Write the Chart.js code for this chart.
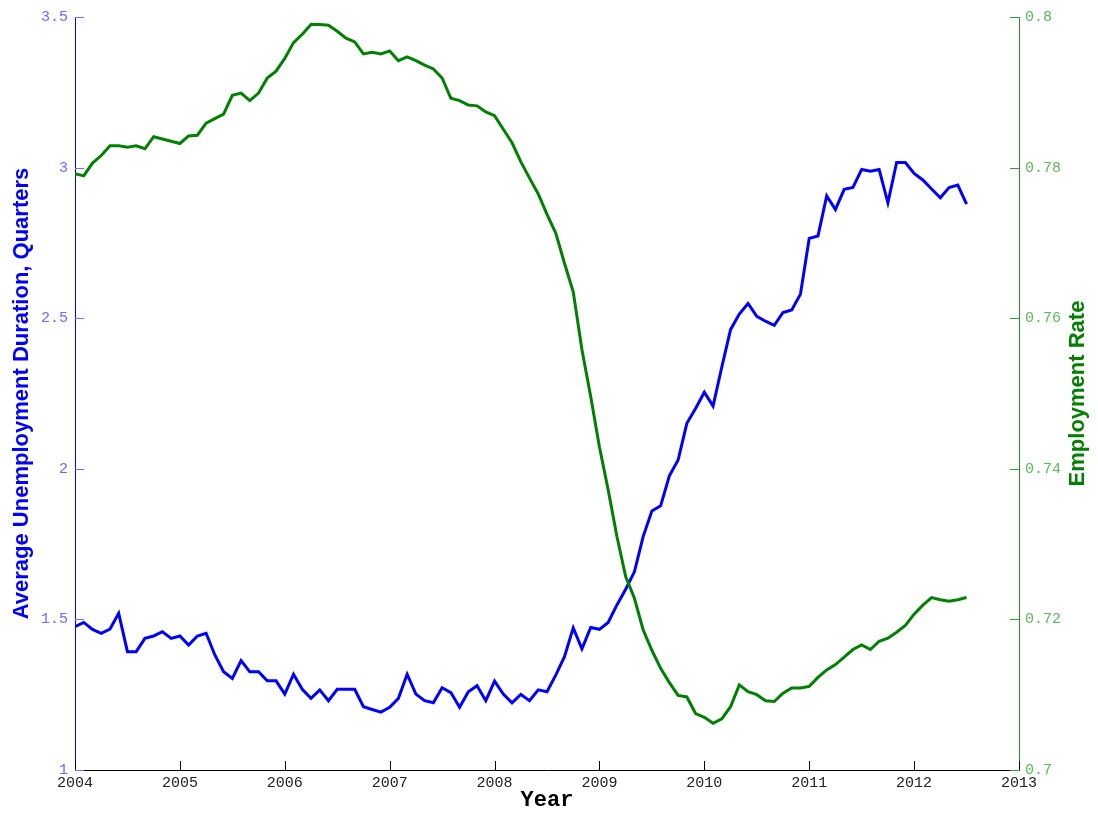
<!DOCTYPE html>
<html>
<head>
<meta charset="utf-8">
<title>Unemployment duration and employment rate</title>
<script src="https://cdn.jsdelivr.net/npm/chart.js@4/dist/chart.umd.min.js"></script>
<style>
  html, body { margin: 0; padding: 0; background: #fff; }
  #wrap { width: 1098px; height: 816px; position: relative; }
</style>
</head>
<body>
<div id="wrap"><canvas id="grafico"></canvas></div>
<script>
// monthly series, Jan 2004 to Jul 2012
var startYear = 2004;

var duration = [
  1.476, 1.490, 1.467, 1.454, 1.468, 1.520, 1.393, 1.393, 1.437, 1.445, 1.459, 1.437,
  1.445, 1.415, 1.445, 1.454, 1.382, 1.326, 1.304, 1.363, 1.326, 1.326, 1.296, 1.296,
  1.252, 1.318, 1.268, 1.238, 1.266, 1.230, 1.268, 1.268, 1.268, 1.210, 1.201, 1.192,
  1.208, 1.238, 1.318, 1.252, 1.230, 1.223, 1.273, 1.257, 1.208, 1.260, 1.280, 1.230,
  1.295, 1.252, 1.223, 1.251, 1.230, 1.266, 1.260, 1.315, 1.376, 1.472, 1.402, 1.473,
  1.467, 1.490, 1.548, 1.600, 1.658, 1.775, 1.860, 1.877, 1.977, 2.029, 2.151, 2.200,
  2.254, 2.208, 2.338, 2.462, 2.514, 2.549, 2.506, 2.490, 2.476, 2.519, 2.527, 2.580,
  2.765, 2.773, 2.906, 2.861, 2.928, 2.934, 2.994, 2.988, 2.994, 2.883, 3.017, 3.017,
  2.981, 2.959, 2.929, 2.900, 2.934, 2.942, 2.879
];

var employment = [
  0.7792, 0.7789, 0.7806, 0.7816, 0.7829, 0.7829, 0.7827, 0.7829, 0.7825, 0.7841, 0.7838, 0.7835,
  0.7832, 0.7842, 0.7843, 0.7859, 0.7865, 0.7871, 0.7896, 0.7899, 0.7889, 0.7899, 0.7919, 0.7928,
  0.7945, 0.7966, 0.7977, 0.7990, 0.7990, 0.7989, 0.7981, 0.7972, 0.7967, 0.7951, 0.7953, 0.7951,
  0.7955, 0.7942, 0.7947, 0.7942, 0.7936, 0.7931, 0.7919, 0.7892, 0.7889, 0.7883, 0.7882, 0.7874,
  0.7869, 0.7851, 0.7833, 0.7808, 0.7786, 0.7765, 0.7738, 0.7713, 0.7673, 0.7635, 0.7558, 0.7496,
  0.7429, 0.7372, 0.7310, 0.7257, 0.7228, 0.7186, 0.7159, 0.7135, 0.7116, 0.7099, 0.7097, 0.7075,
  0.7070, 0.7062, 0.7068, 0.7084, 0.7113, 0.7104, 0.7100, 0.7092, 0.7091, 0.7102, 0.7109, 0.7109,
  0.7111, 0.7123, 0.7133, 0.7140, 0.7150, 0.7160, 0.7166, 0.7160, 0.7171, 0.7175, 0.7183, 0.7192,
  0.7207, 0.7219, 0.7229, 0.7226, 0.7224, 0.7226, 0.7229
];

var yearTicks = [2004, 2005, 2006, 2007, 2008, 2009, 2010, 2011, 2012, 2013];
var durationTicks = [1, 1.5, 2, 2.5, 3, 3.5];
var employmentTicks = [0.7, 0.72, 0.74, 0.76, 0.78, 0.8];

// pares (año decimal, valor) para el eje lineal
function aPuntos(valores) {
  return valores.map(function (v, i) { return { x: startYear + i / 12, y: v }; });
}

var monoFont = { family: "'Liberation Mono', 'DejaVu Sans Mono', monospace", size: 15 };

// marcas de eje hacia dentro + titulo derecho leido de abajo hacia arriba
var marcasInternas = {
  id: 'marcasInternas',
  afterDraw: function (chart) {
    var ctx = chart.ctx;
    var area = chart.chartArea;
    var len = 9;
    ctx.save();
    ctx.lineWidth = 1;

    ctx.strokeStyle = '#000000';
    chart.scales.x.ticks.forEach(function (t) {
      var px = Math.round(chart.scales.x.getPixelForValue(t.value)) + 0.5;
      ctx.beginPath(); ctx.moveTo(px, area.bottom); ctx.lineTo(px, area.bottom - len); ctx.stroke();
    });

    ctx.strokeStyle = '#7070ff';
    chart.scales.y.ticks.forEach(function (t) {
      var py = Math.round(chart.scales.y.getPixelForValue(t.value)) + 0.5;
      ctx.beginPath(); ctx.moveTo(area.left, py); ctx.lineTo(area.left + len, py); ctx.stroke();
    });

    ctx.strokeStyle = '#3c9a3c';
    chart.scales.y1.ticks.forEach(function (t) {
      var py = Math.round(chart.scales.y1.getPixelForValue(t.value)) + 0.5;
      ctx.beginPath(); ctx.moveTo(area.right, py); ctx.lineTo(area.right - len, py); ctx.stroke();
    });

    ctx.translate(1078, (area.top + area.bottom) / 2);
    ctx.rotate(-Math.PI / 2);
    ctx.fillStyle = '#008000';
    ctx.font = "bold 22px 'Liberation Sans', Arial, sans-serif";
    ctx.textAlign = 'center';
    ctx.textBaseline = 'middle';
    ctx.fillText('Employment Rate', 0, 0);
    ctx.restore();
  }
};

new Chart(document.getElementById('grafico').getContext('2d'), {
  type: 'line',
  data: {
    datasets: [{
      label: 'Employment Rate',
      data: aPuntos(employment),
      yAxisID: 'y1',
      borderColor: '#008000',
      borderWidth: 3,
      pointRadius: 0,
      tension: 0,
      order: 0
    }, {
      label: 'Average Unemployment Duration, Quarters',
      data: aPuntos(duration),
      yAxisID: 'y',
      borderColor: '#0000ff',
      borderWidth: 3,
      pointRadius: 0,
      tension: 0,
      order: 1
    }]
  },
  options: {
    responsive: true,
    maintainAspectRatio: false,
    animation: false,
    devicePixelRatio: 1,
    layout: { padding: { top: 17, left: 0, right: 0, bottom: 0 } },
    plugins: { legend: { display: false }, tooltip: { enabled: false } },
    scales: {
      x: {
        type: 'linear',
        min: yearTicks[0],
        max: yearTicks[yearTicks.length - 1],
        afterBuildTicks: function (s) { s.ticks = yearTicks.map(function (v) { return { value: v }; }); },
        afterFit: function (s) { s.height = 46; },
        grid: { display: false, drawTicks: false },
        border: { display: true, color: '#000000', width: 1 },
        ticks: {
          font: monoFont, color: '#222222', padding: 4, maxRotation: 0, autoSkip: false,
          callback: function (v) { return String(v); }
        },
        title: {
          display: true, text: 'Year', color: '#000000',
          font: { family: "'Liberation Mono', 'DejaVu Sans Mono', monospace", size: 22, weight: 'bold', lineHeight: 1 },
          padding: { top: 0, bottom: 5 }
        }
      },
      y: {
        position: 'left',
        min: durationTicks[0],
        max: durationTicks[durationTicks.length - 1],
        afterBuildTicks: function (s) { s.ticks = durationTicks.map(function (v) { return { value: v }; }); },
        afterFit: function (s) { s.width = 75; },
        grid: { display: false, drawTicks: false },
        border: { display: true, color: '#0000ff', width: 1 },
        ticks: {
          font: monoFont, color: '#6b6bff', padding: 7, autoSkip: false,
          callback: function (v) { return String(v); }
        },
        title: {
          display: true, text: 'Average Unemployment Duration, Quarters', color: '#0000ff',
          font: { family: "'Liberation Sans', Arial, sans-serif", size: 22, weight: 'bold', lineHeight: 1 },
          padding: { top: 11, bottom: 0 }
        }
      },
      y1: {
        position: 'right',
        min: employmentTicks[0],
        max: employmentTicks[employmentTicks.length - 1],
        afterBuildTicks: function (s) { s.ticks = employmentTicks.map(function (v) { return { value: v }; }); },
        afterFit: function (s) { s.width = 79; },
        grid: { display: false, drawTicks: false },
        border: { display: true, color: '#2a8a2a', width: 1 },
        ticks: {
          font: monoFont, color: '#5cb85c', padding: 6, autoSkip: false,
          callback: function (v) { return String(Number(v.toFixed(2))); }
        },
        title: { display: false }
      }
    }
  },
  plugins: [marcasInternas]
});
</script>
</body>
</html>
